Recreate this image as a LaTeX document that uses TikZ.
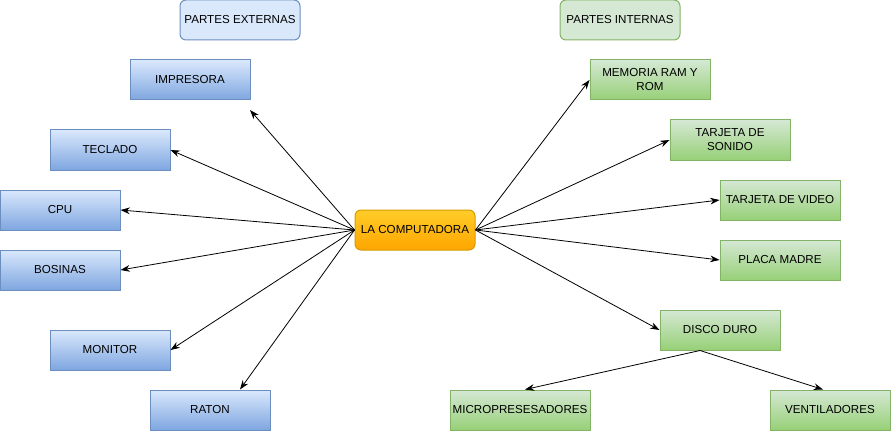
\documentclass[tikz,border=0pt]{standalone}
\usepackage{fontspec}
\setmainfont{Liberation Sans}
\usepackage{tikz}
\usetikzlibrary{positioning, arrows.meta, calc}

\definecolor{bluefill}{HTML}{DAE8FC}
\definecolor{bluedark}{HTML}{7EA6E0}
\definecolor{blueline}{HTML}{6C8EBF}
\definecolor{greenfill}{HTML}{D5E8D4}
\definecolor{greendark}{HTML}{97D077}
\definecolor{greenline}{HTML}{82B366}
\definecolor{orangetop}{HTML}{FFCD28}
\definecolor{orangebot}{HTML}{FFA500}
\definecolor{orangeline}{HTML}{D79B00}

\begin{document}
\begin{tikzpicture}[x=0.75pt, y=-0.75pt,
    every node/.style={rectangle, minimum width=90pt, minimum height=30pt, inner sep=1pt,
        align=center, font=\fontsize{8.7}{10.5}\selectfont, line width=0.75pt},
    ext/.style={draw=blueline, top color=bluefill, bottom color=bluedark},
    inte/.style={draw=greenline, top color=greenfill, bottom color=greendark},
    titleext/.style={draw=blueline, fill=bluefill, rounded corners=4.5pt},
    titleint/.style={draw=greenline, fill=greenfill, rounded corners=4.5pt},
    link/.style={-{Stealth[length=7pt, width=5pt]}, line width=0.6pt}]
    \useasboundingbox (0,0) rectangle (891,431);

    \node (partext) at (240,20) [titleext] {PARTES EXTERNAS};
    \node (partint) at (620,20) [titleint] {PARTES INTERNAS};

    \node (comp) at (415,230) [draw=orangeline, top color=orangetop, bottom color=orangebot, rounded corners=4.5pt] {LA COMPUTADORA};

    \node (impresora) at (190,80) [ext] {IMPRESORA};
    \node (teclado) at (110,150) [ext] {TECLADO};
    \node (cpu) at (60,210) [ext] {CPU};
    \node (bosinas) at (60,270) [ext] {BOSINAS};
    \node (monitor) at (110,350) [ext] {MONITOR};
    \node (raton) at (210,410) [ext] {RATON};
    \coordinate (imptip) at (250,110);

    \node (memoria) at (650,80) [inte] {MEMORIA RAM Y\\ROM};
    \node (sonido) at (730,140) [inte] {TARJETA DE\\SONIDO};
    \node (video) at (780,200) [inte] {TARJETA DE VIDEO};
    \node (placa) at (780,260) [inte] {PLACA MADRE};
    \node (disco) at (720,330) [inte] {DISCO DURO};
    \node (micro) at (520,410) [inte, minimum width=105pt] {MICROPRESESADORES};
    \node (venti) at (830,410) [inte] {VENTILADORES};

    \draw[link] (comp.west) -- (imptip);
    \draw[link] (comp.west) -- (teclado.east);
    \draw[link] (comp.west) -- (cpu.east);
    \draw[link] (comp.west) -- (bosinas.east);
    \draw[link] (comp.west) -- (monitor.east);
    \draw[link] (comp.west) -- ($(raton.north)+(30,0)$);

    \draw[link] (comp.east) -- (memoria.west);
    \draw[link] (comp.east) -- (sonido.west);
    \draw[link] (comp.east) -- (video.west);
    \draw[link] (comp.east) -- (placa.west);
    \draw[link] (comp.east) -- (disco.west);

    \draw[link] ($(disco.south)+(-20,0)$) -- ($(micro.north)+(5,0)$);
    \draw[link] ($(disco.south)+(-20,0)$) -- ($(venti.north)+(-7,0)$);
\end{tikzpicture}
\end{document}
